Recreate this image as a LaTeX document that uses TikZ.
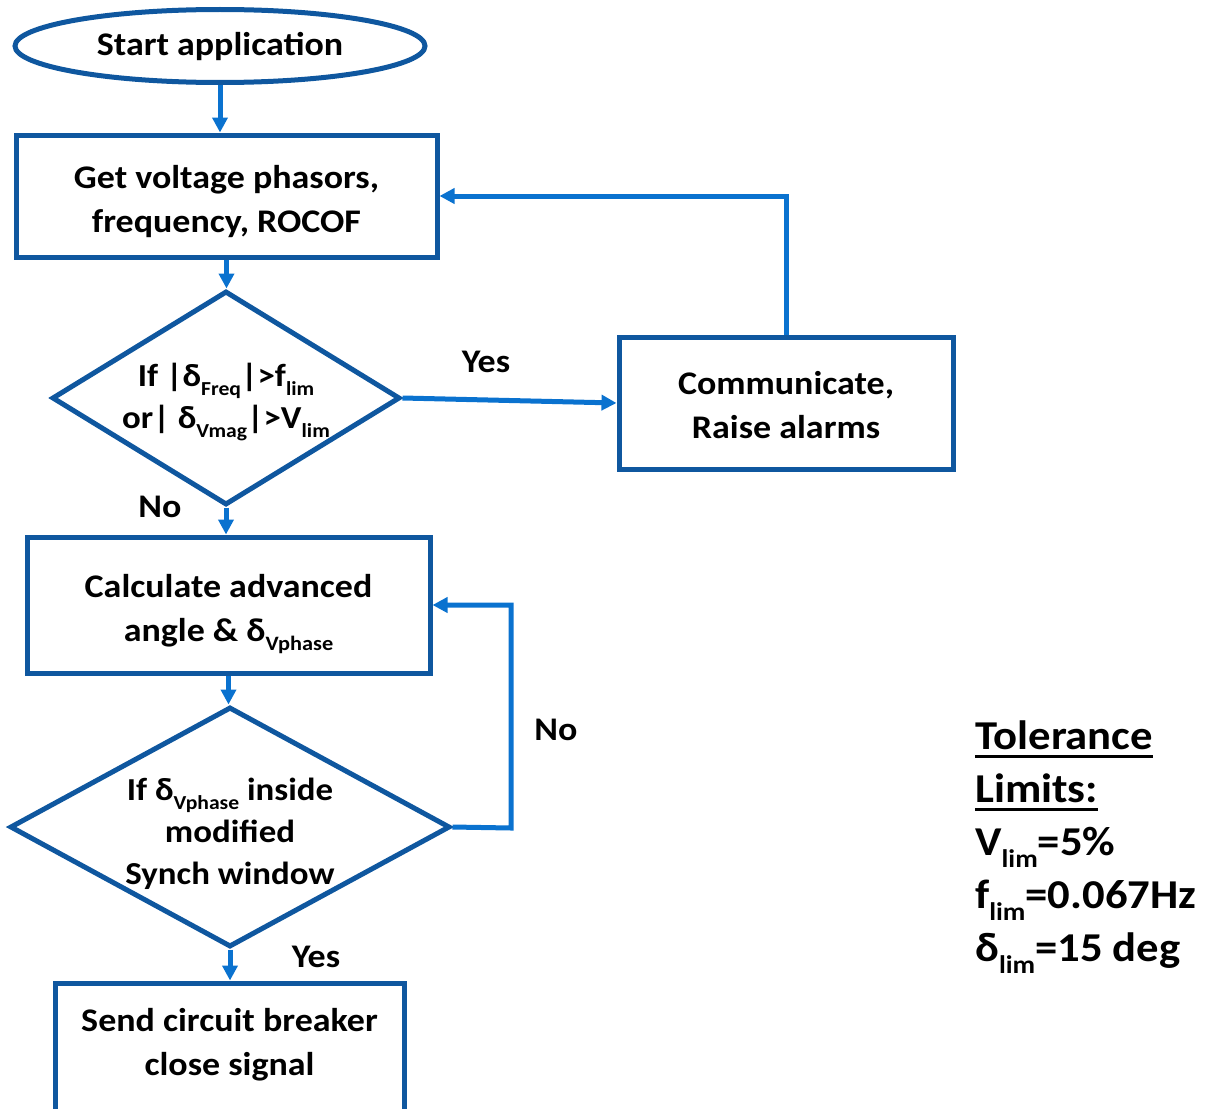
\documentclass[tikz,border=0pt]{standalone}
\usepackage{fontspec}
\setmainfont{Carlito}[FakeStretch=1.09]
\usetikzlibrary{shapes.geometric,arrows.meta}
\definecolor{shapeblue}{HTML}{0F579F}
\definecolor{linkblue}{HTML}{0A72CF}
% lowered, reduced subscript in the current text font
\newcommand\lowsub[1]{\raisebox{-0.28em}{\scalebox{0.62}{#1}}}
% heavy underline for the legend heading
\newcommand\thickul[1]{\leavevmode\vtop{\hbox{#1}\kern5pt\hrule height 3pt}}
\begin{document}
\begin{tikzpicture}[x=1pt,y=-1pt,
  txt/.style={align=center,font=\fontsize{33}{44}\selectfont\bfseries},
  dtxt/.style={align=center,font=\fontsize{32}{42}\selectfont\bfseries},
  stepbox/.style={draw=shapeblue,line width=5pt,rectangle,inner sep=0pt},
  startshape/.style={draw=shapeblue,line width=5pt,ellipse,inner sep=0pt,
    minimum width=410pt,minimum height=73pt,txt},
  decision/.style={draw=shapeblue,line width=5pt,diamond,inner sep=0pt},
  lbl/.style={font=\fontsize{33}{40}\selectfont\bfseries,inner sep=0pt},
  link/.style={draw=linkblue,line width=5pt,-{Triangle[length=15pt,width=15pt]}}
]
\useasboundingbox (0,0) rectangle (1209,1108);
\clip (0,0) rectangle (1209,1108);

% process chain
\node[startshape] (start) at (220,46) {Start application};
\node[stepbox,minimum width=421pt,minimum height=122pt,
  label={[txt,yshift=-6pt]center:{Get voltage phasors,\\frequency, ROCOF}}]
  (get) at (226.5,196) {};
\node[decision,minimum width=348pt,minimum height=214pt,
  label={[dtxt,yshift=-4pt]center:{If |δ\lowsub{Freq}|>f\lowsub{lim}\\or| δ\lowsub{Vmag}|>V\lowsub{lim}}}]
  (d1) at (226,398) {};
\node[stepbox,minimum width=334pt,minimum height=132pt,
  label={[txt,yshift=-2pt]center:{Communicate,\\Raise alarms}}]
  (comm) at (786,403) {};
\node[stepbox,minimum width=403pt,minimum height=136pt,
  label={[txt,yshift=-9pt]center:{Calculate advanced\\angle \& δ\lowsub{Vphase}}}]
  (calc) at (228.5,605) {};
\node[decision,minimum width=440pt,minimum height=240pt,
  label={[dtxt,yshift=-7pt]center:{If δ\lowsub{Vphase} inside\\modified\\Synch window}}]
  (d2) at (230,827) {};
\node[stepbox,minimum width=349pt,minimum height=134pt,
  label={[txt,yshift=5pt]center:{Send circuit breaker\\close signal}}]
  (send) at (229.5,1050) {};

% branch labels
\node[lbl] (yes1) at (486,362) {Yes};
\node[lbl] (no1) at (160,507) {No};
\node[lbl] (no2) at (556,730) {No};
\node[lbl] (yes2) at (316,957) {Yes};

% connectors
\coordinate (loop) at (511,828);
\draw[link] (start.south) -- (start.south |- get.north);
\draw[link] (get.south) -- (get.south |- d1.north);
\draw[link] (d1.east) -- (comm.west);
\draw[link] (comm.north) |- (get.east);
\draw[link] (d1.south) -- (d1.south |- calc.north);
\draw[link] (calc.south) -- (calc.south |- d2.north);
\draw[link] (d2.east) -- (loop) |- (calc.east);
\draw[link] (d2.south) -- (d2.south |- send.north);

% legend
\node[anchor=west,align=left,inner sep=0pt,
  font=\fontsize{41}{53}\selectfont\bfseries] (tol) at (975,847)
  {\thickul{Tolerance}\\\thickul{Limits:}\\V\lowsub{lim}=5\%\\
   f\lowsub{lim}=0.067Hz\\δ\lowsub{lim}=15 deg};
\end{tikzpicture}
\end{document}
